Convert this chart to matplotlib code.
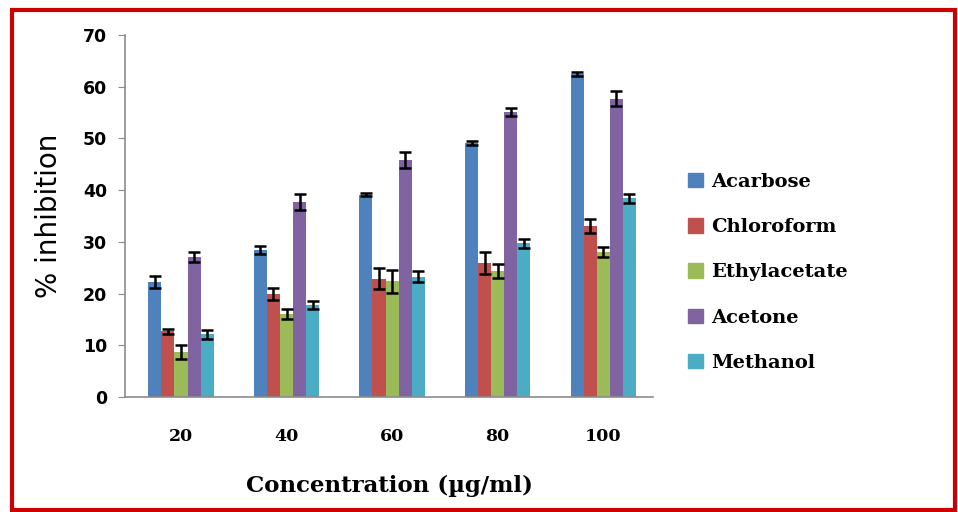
import numpy as np
import matplotlib.pyplot as plt
from matplotlib.patches import Rectangle, Patch

concentrations = ["20", "40", "60", "80", "100"]
series = ["Acarbose", "Chloroform", "Ethylacetate", "Acetone", "Methanol"]
colors = ["#4F81BD", "#C0504D", "#9BBB59", "#8064A2", "#4BACC6"]

acarbose = [22.2, 28.4, 39.1, 49.1, 62.4]
chloroform = [12.7, 19.9, 22.9, 25.9, 33.1]
ethylacetate = [8.7, 16.1, 22.4, 24.4, 28.0]
acetone = [27.1, 37.7, 45.8, 55.1, 57.7]
methanol = [12.1, 17.8, 23.3, 29.7, 38.4]

acarbose_err = [1.2, 0.8, 0.3, 0.4, 0.4]
chloroform_err = [0.5, 1.1, 2.0, 2.1, 1.3]
ethylacetate_err = [1.3, 1.0, 2.2, 1.3, 1.0]
acetone_err = [1.0, 1.5, 1.6, 0.8, 1.5]
methanol_err = [0.9, 0.8, 1.0, 0.8, 0.9]

values = [acarbose, chloroform, ethylacetate, acetone, methanol]
errors = [acarbose_err, chloroform_err, ethylacetate_err, acetone_err, methanol_err]

serif = "DejaVu Serif"

fig = plt.figure(figsize=(9.58, 5.12), dpi=100)
ax = fig.add_axes([0.1305, 0.2246, 0.551, 0.707])

# groups sit slightly right of the plain category centres in the original
x = np.arange(len(concentrations)) + 0.03
width = 0.124
for i, (name, vals, errs) in enumerate(zip(series, values, errors)):
    pos = x + (i - 2) * width
    ax.bar(pos, vals, width, color=colors[i], label=name, zorder=2)
    ax.errorbar(pos, vals, yerr=errs, fmt="none", ecolor="black",
                elinewidth=1.8, capsize=4.5, capthick=1.8, zorder=3)

ax.set_xlim(-0.5, 4.5)
ax.set_ylim(0, 70)
ax.set_yticks(range(0, 71, 10))
ax.set_xticks(x)
ax.set_xticklabels(concentrations, fontfamily=serif,
                   fontweight="bold", fontsize=12.5)
for lab in ax.get_yticklabels():
    lab.set_fontfamily("DejaVu Sans")
    lab.set_fontweight("bold")
    lab.set_fontsize(12.5)

for s in ["top", "right"]:
    ax.spines[s].set_visible(False)
for s in ["left", "bottom"]:
    ax.spines[s].set_color("#8c8c8c")
    ax.spines[s].set_linewidth(1.2)
ax.tick_params(axis="y", length=5, color="#8c8c8c", pad=8)
ax.tick_params(axis="x", length=0, pad=22)

ax.set_ylabel("% inhibition", fontfamily="DejaVu Sans", fontsize=20, labelpad=14)
ax.set_xlabel("Concentration (\u00b5g/ml)", fontfamily=serif,
              fontweight="bold", fontsize=16.5, labelpad=22)

handles = [Patch(color=c) for c in colors]
fig.legend(handles, series, loc="center left", bbox_to_anchor=(0.70, 0.468),
           frameon=False, handlelength=0.75, handleheight=0.75, handletextpad=0.45,
           labelspacing=1.4, prop={"family": serif, "weight": "bold", "size": 14})

fig.patches.append(Rectangle((12 / 958, 2 / 512), 943 / 958, 500 / 512,
                             transform=fig.transFigure, fill=False,
                             edgecolor="#CC0000", linewidth=3))

fig.savefig("out.png", dpi=100)
